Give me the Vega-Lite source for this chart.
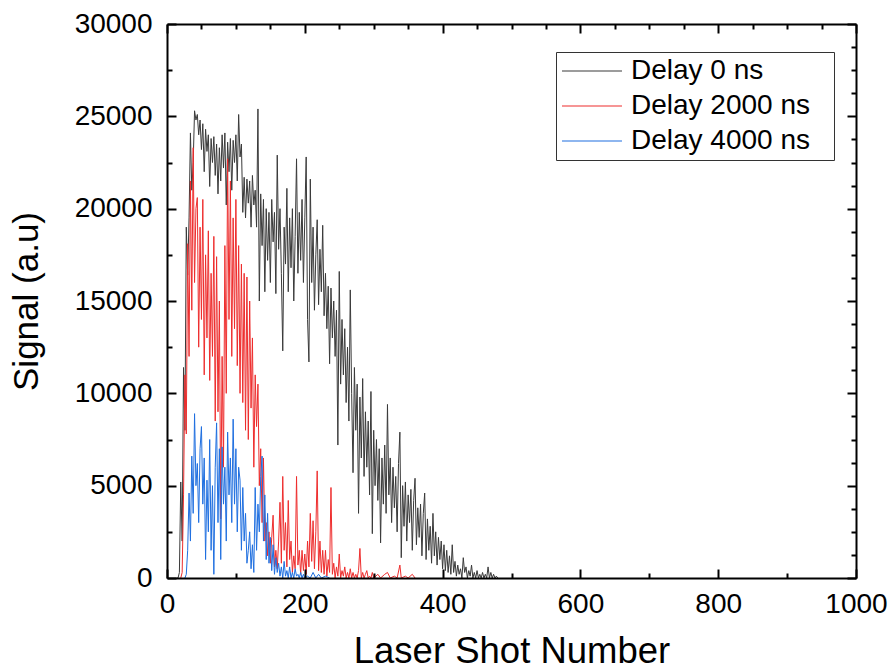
{
  "$schema": "https://vega.github.io/schema/vega-lite/v6.json",
  "width": 689,
  "height": 554,
  "autosize": "none",
  "padding": {"left": 167, "top": 24, "right": 36, "bottom": 93},
  "background": "white",
  "config": {
    "view": {"stroke": null},
    "font": "Liberation Sans",
    "legend": {"strokeWidth": 1}
  },
  "datasets": {
    "gray": [
      {"shot":14,"signal":0},{"shot":16,"signal":0},{"shot":18,"signal":300},{"shot":20,"signal":5200},{"shot":22,"signal":2000},{"shot":24,"signal":11400},{"shot":26,"signal":8000},{"shot":28,"signal":19000},{"shot":30,"signal":16400},{"shot":32,"signal":19500},{"shot":34,"signal":24100},{"shot":36,"signal":21000},{"shot":38,"signal":22500},{"shot":40,"signal":25300},{"shot":42,"signal":24800},{"shot":44,"signal":25100},{"shot":46,"signal":24000},{"shot":48,"signal":24800},{"shot":50,"signal":23200},{"shot":52,"signal":24600},{"shot":54,"signal":22000},{"shot":56,"signal":24300},{"shot":58,"signal":23100},{"shot":60,"signal":24000},{"shot":62,"signal":21200},{"shot":64,"signal":23800},{"shot":66,"signal":22500},{"shot":68,"signal":23900},{"shot":70,"signal":21800},{"shot":72,"signal":23500},{"shot":74,"signal":20800},{"shot":76,"signal":23300},{"shot":78,"signal":21500},{"shot":80,"signal":24000},{"shot":82,"signal":22200},{"shot":84,"signal":24100},{"shot":86,"signal":20200},{"shot":88,"signal":23600},{"shot":90,"signal":22000},{"shot":92,"signal":23800},{"shot":94,"signal":21000},{"shot":96,"signal":23700},{"shot":98,"signal":22500},{"shot":100,"signal":24000},{"shot":102,"signal":21500},{"shot":104,"signal":25100},{"shot":106,"signal":22800},{"shot":108,"signal":23500},{"shot":110,"signal":19800},{"shot":112,"signal":21700},{"shot":114,"signal":19500},{"shot":116,"signal":21600},{"shot":118,"signal":20300},{"shot":120,"signal":21500},{"shot":122,"signal":19000},{"shot":124,"signal":21800},{"shot":126,"signal":20200},{"shot":128,"signal":21000},{"shot":130,"signal":19000},{"shot":132,"signal":25400},{"shot":134,"signal":15000},{"shot":136,"signal":20800},{"shot":138,"signal":18000},{"shot":140,"signal":20500},{"shot":142,"signal":15500},{"shot":144,"signal":20000},{"shot":146,"signal":17200},{"shot":148,"signal":19800},{"shot":150,"signal":16000},{"shot":152,"signal":20500},{"shot":154,"signal":18200},{"shot":156,"signal":19800},{"shot":158,"signal":15400},{"shot":160,"signal":22900},{"shot":162,"signal":17800},{"shot":164,"signal":20000},{"shot":166,"signal":16500},{"shot":168,"signal":12300},{"shot":170,"signal":19000},{"shot":172,"signal":17000},{"shot":174,"signal":21100},{"shot":176,"signal":15500},{"shot":178,"signal":19500},{"shot":180,"signal":16800},{"shot":182,"signal":20000},{"shot":184,"signal":15000},{"shot":186,"signal":18500},{"shot":188,"signal":22700},{"shot":190,"signal":16500},{"shot":192,"signal":19800},{"shot":194,"signal":17200},{"shot":196,"signal":20500},{"shot":198,"signal":16000},{"shot":200,"signal":19500},{"shot":202,"signal":22800},{"shot":204,"signal":14000},{"shot":206,"signal":11700},{"shot":208,"signal":21600},{"shot":210,"signal":16000},{"shot":212,"signal":19000},{"shot":214,"signal":14500},{"shot":216,"signal":17500},{"shot":218,"signal":19400},{"shot":220,"signal":14800},{"shot":222,"signal":17800},{"shot":224,"signal":15500},{"shot":226,"signal":19100},{"shot":228,"signal":14200},{"shot":230,"signal":16500},{"shot":232,"signal":13500},{"shot":234,"signal":15800},{"shot":236,"signal":11600},{"shot":238,"signal":15700},{"shot":240,"signal":13000},{"shot":242,"signal":15000},{"shot":244,"signal":12000},{"shot":246,"signal":14500},{"shot":248,"signal":7200},{"shot":250,"signal":16600},{"shot":252,"signal":10500},{"shot":254,"signal":14000},{"shot":256,"signal":11000},{"shot":258,"signal":13500},{"shot":260,"signal":9500},{"shot":262,"signal":12500},{"shot":264,"signal":8500},{"shot":266,"signal":15600},{"shot":268,"signal":10000},{"shot":270,"signal":5700},{"shot":272,"signal":11400},{"shot":274,"signal":8000},{"shot":276,"signal":10500},{"shot":278,"signal":3500},{"shot":280,"signal":9800},{"shot":282,"signal":6500},{"shot":284,"signal":10800},{"shot":286,"signal":5500},{"shot":288,"signal":9000},{"shot":290,"signal":6000},{"shot":292,"signal":8500},{"shot":294,"signal":4500},{"shot":296,"signal":10100},{"shot":298,"signal":2400},{"shot":300,"signal":8000},{"shot":302,"signal":5000},{"shot":304,"signal":7500},{"shot":306,"signal":4200},{"shot":308,"signal":7000},{"shot":310,"signal":1900},{"shot":312,"signal":6500},{"shot":314,"signal":4000},{"shot":316,"signal":7200},{"shot":318,"signal":3500},{"shot":320,"signal":9400},{"shot":322,"signal":4500},{"shot":324,"signal":6500},{"shot":326,"signal":3000},{"shot":328,"signal":6000},{"shot":330,"signal":3800},{"shot":332,"signal":5500},{"shot":334,"signal":2500},{"shot":336,"signal":6200},{"shot":338,"signal":7900},{"shot":340,"signal":1100},{"shot":342,"signal":5000},{"shot":344,"signal":2800},{"shot":346,"signal":5200},{"shot":348,"signal":2000},{"shot":350,"signal":4500},{"shot":352,"signal":3000},{"shot":354,"signal":4800},{"shot":356,"signal":1500},{"shot":358,"signal":4200},{"shot":360,"signal":5400},{"shot":362,"signal":1800},{"shot":364,"signal":3800},{"shot":366,"signal":2200},{"shot":368,"signal":4000},{"shot":370,"signal":1200},{"shot":372,"signal":3500},{"shot":374,"signal":4600},{"shot":376,"signal":1000},{"shot":378,"signal":3200},{"shot":380,"signal":1500},{"shot":382,"signal":2800},{"shot":384,"signal":800},{"shot":386,"signal":3500},{"shot":388,"signal":1200},{"shot":390,"signal":2500},{"shot":392,"signal":700},{"shot":394,"signal":2200},{"shot":396,"signal":1000},{"shot":398,"signal":2000},{"shot":400,"signal":500},{"shot":402,"signal":1800},{"shot":404,"signal":400},{"shot":406,"signal":1500},{"shot":408,"signal":300},{"shot":410,"signal":1200},{"shot":412,"signal":200},{"shot":414,"signal":1800},{"shot":416,"signal":300},{"shot":418,"signal":900},{"shot":420,"signal":100},{"shot":422,"signal":700},{"shot":424,"signal":200},{"shot":426,"signal":500},{"shot":428,"signal":0},{"shot":430,"signal":1100},{"shot":432,"signal":300},{"shot":434,"signal":600},{"shot":436,"signal":0},{"shot":438,"signal":400},{"shot":440,"signal":100},{"shot":442,"signal":700},{"shot":444,"signal":0},{"shot":446,"signal":300},{"shot":448,"signal":0},{"shot":450,"signal":400},{"shot":452,"signal":0},{"shot":454,"signal":200},{"shot":456,"signal":0},{"shot":458,"signal":300},{"shot":460,"signal":0},{"shot":462,"signal":200},{"shot":464,"signal":0},{"shot":466,"signal":600},{"shot":468,"signal":0},{"shot":470,"signal":300},{"shot":472,"signal":0},{"shot":474,"signal":200},{"shot":476,"signal":0},{"shot":478,"signal":100},{"shot":480,"signal":0}
    ],
    "red": [
      {"shot":20,"signal":0},{"shot":22,"signal":300},{"shot":24,"signal":4500},{"shot":26,"signal":11000},{"shot":28,"signal":7800},{"shot":30,"signal":18100},{"shot":32,"signal":12000},{"shot":34,"signal":21500},{"shot":36,"signal":14500},{"shot":38,"signal":23300},{"shot":40,"signal":16000},{"shot":42,"signal":20000},{"shot":44,"signal":20600},{"shot":46,"signal":12500},{"shot":48,"signal":19000},{"shot":50,"signal":14000},{"shot":52,"signal":20500},{"shot":54,"signal":11000},{"shot":56,"signal":17500},{"shot":58,"signal":13000},{"shot":60,"signal":18800},{"shot":62,"signal":10700},{"shot":64,"signal":16500},{"shot":66,"signal":12000},{"shot":68,"signal":18500},{"shot":70,"signal":8500},{"shot":72,"signal":17400},{"shot":74,"signal":9000},{"shot":76,"signal":15000},{"shot":78,"signal":3200},{"shot":80,"signal":12000},{"shot":82,"signal":6000},{"shot":84,"signal":18000},{"shot":86,"signal":10000},{"shot":88,"signal":22700},{"shot":90,"signal":14000},{"shot":92,"signal":21500},{"shot":94,"signal":12000},{"shot":96,"signal":19500},{"shot":98,"signal":13500},{"shot":100,"signal":20500},{"shot":102,"signal":11500},{"shot":104,"signal":18000},{"shot":106,"signal":10000},{"shot":108,"signal":17000},{"shot":110,"signal":9500},{"shot":112,"signal":16500},{"shot":114,"signal":8000},{"shot":116,"signal":16300},{"shot":118,"signal":7500},{"shot":120,"signal":15000},{"shot":122,"signal":9200},{"shot":124,"signal":13000},{"shot":126,"signal":6000},{"shot":128,"signal":11000},{"shot":130,"signal":8200},{"shot":132,"signal":10500},{"shot":134,"signal":5000},{"shot":136,"signal":7000},{"shot":138,"signal":3000},{"shot":140,"signal":6500},{"shot":142,"signal":2000},{"shot":144,"signal":3000},{"shot":146,"signal":1200},{"shot":148,"signal":2500},{"shot":150,"signal":800},{"shot":152,"signal":2200},{"shot":154,"signal":3400},{"shot":156,"signal":600},{"shot":158,"signal":1500},{"shot":160,"signal":500},{"shot":162,"signal":2000},{"shot":164,"signal":4100},{"shot":166,"signal":800},{"shot":168,"signal":5500},{"shot":170,"signal":1500},{"shot":172,"signal":3000},{"shot":174,"signal":600},{"shot":176,"signal":4200},{"shot":178,"signal":1000},{"shot":180,"signal":2000},{"shot":182,"signal":300},{"shot":184,"signal":1200},{"shot":186,"signal":500},{"shot":188,"signal":5500},{"shot":190,"signal":700},{"shot":192,"signal":1500},{"shot":194,"signal":200},{"shot":196,"signal":1500},{"shot":198,"signal":400},{"shot":200,"signal":1300},{"shot":202,"signal":200},{"shot":204,"signal":2000},{"shot":206,"signal":600},{"shot":208,"signal":3500},{"shot":210,"signal":900},{"shot":212,"signal":3100},{"shot":214,"signal":500},{"shot":216,"signal":2500},{"shot":218,"signal":5800},{"shot":220,"signal":400},{"shot":222,"signal":2000},{"shot":224,"signal":300},{"shot":226,"signal":1500},{"shot":228,"signal":200},{"shot":230,"signal":1500},{"shot":232,"signal":100},{"shot":234,"signal":1000},{"shot":236,"signal":300},{"shot":238,"signal":4900},{"shot":240,"signal":200},{"shot":242,"signal":800},{"shot":244,"signal":0},{"shot":246,"signal":600},{"shot":248,"signal":100},{"shot":250,"signal":1300},{"shot":252,"signal":0},{"shot":254,"signal":400},{"shot":256,"signal":100},{"shot":258,"signal":600},{"shot":260,"signal":0},{"shot":262,"signal":300},{"shot":264,"signal":0},{"shot":266,"signal":500},{"shot":268,"signal":0},{"shot":270,"signal":300},{"shot":272,"signal":0},{"shot":274,"signal":200},{"shot":276,"signal":0},{"shot":278,"signal":400},{"shot":280,"signal":1600},{"shot":282,"signal":0},{"shot":284,"signal":300},{"shot":286,"signal":0},{"shot":288,"signal":200},{"shot":290,"signal":400},{"shot":292,"signal":0},{"shot":294,"signal":100},{"shot":296,"signal":0},{"shot":298,"signal":300},{"shot":300,"signal":0},{"shot":306,"signal":200},{"shot":310,"signal":0},{"shot":316,"signal":200},{"shot":320,"signal":300},{"shot":324,"signal":0},{"shot":330,"signal":100},{"shot":334,"signal":0},{"shot":338,"signal":700},{"shot":340,"signal":0},{"shot":346,"signal":100},{"shot":350,"signal":0},{"shot":356,"signal":200},{"shot":360,"signal":0}
    ],
    "blue": [
      {"shot":26,"signal":0},{"shot":28,"signal":200},{"shot":30,"signal":1500},{"shot":32,"signal":4600},{"shot":34,"signal":2000},{"shot":36,"signal":6600},{"shot":38,"signal":3500},{"shot":40,"signal":8900},{"shot":42,"signal":5000},{"shot":44,"signal":6200},{"shot":46,"signal":3000},{"shot":48,"signal":7000},{"shot":50,"signal":8200},{"shot":52,"signal":4000},{"shot":54,"signal":6500},{"shot":56,"signal":1000},{"shot":58,"signal":5300},{"shot":60,"signal":2500},{"shot":62,"signal":7500},{"shot":64,"signal":1500},{"shot":66,"signal":5000},{"shot":68,"signal":200},{"shot":70,"signal":6000},{"shot":72,"signal":8400},{"shot":74,"signal":3000},{"shot":76,"signal":7000},{"shot":78,"signal":1000},{"shot":80,"signal":7100},{"shot":82,"signal":4000},{"shot":84,"signal":6000},{"shot":86,"signal":2000},{"shot":88,"signal":7900},{"shot":90,"signal":4500},{"shot":92,"signal":6500},{"shot":94,"signal":3000},{"shot":96,"signal":8600},{"shot":98,"signal":4000},{"shot":100,"signal":7000},{"shot":102,"signal":2500},{"shot":104,"signal":6000},{"shot":106,"signal":5300},{"shot":108,"signal":1500},{"shot":110,"signal":4900},{"shot":112,"signal":2000},{"shot":114,"signal":3500},{"shot":116,"signal":800},{"shot":118,"signal":1500},{"shot":120,"signal":2500},{"shot":122,"signal":500},{"shot":124,"signal":1800},{"shot":126,"signal":300},{"shot":128,"signal":4900},{"shot":130,"signal":1500},{"shot":132,"signal":4000},{"shot":134,"signal":2500},{"shot":136,"signal":5500},{"shot":138,"signal":6600},{"shot":140,"signal":2000},{"shot":142,"signal":4500},{"shot":144,"signal":1000},{"shot":146,"signal":3500},{"shot":148,"signal":800},{"shot":150,"signal":2200},{"shot":152,"signal":400},{"shot":154,"signal":1800},{"shot":156,"signal":200},{"shot":158,"signal":1100},{"shot":160,"signal":300},{"shot":162,"signal":800},{"shot":164,"signal":100},{"shot":166,"signal":600},{"shot":168,"signal":0},{"shot":170,"signal":900},{"shot":172,"signal":100},{"shot":174,"signal":400},{"shot":176,"signal":0},{"shot":178,"signal":600},{"shot":180,"signal":0},{"shot":182,"signal":300},{"shot":184,"signal":0},{"shot":186,"signal":500},{"shot":188,"signal":100},{"shot":190,"signal":200},{"shot":192,"signal":0},{"shot":194,"signal":300},{"shot":196,"signal":0},{"shot":198,"signal":200},{"shot":200,"signal":0},{"shot":204,"signal":100},{"shot":208,"signal":0},{"shot":212,"signal":300},{"shot":216,"signal":0},{"shot":220,"signal":200},{"shot":224,"signal":0},{"shot":230,"signal":100},{"shot":236,"signal":0}
    ]
  },
  "layer": [
    {
      "layer": [
        {
          "data": {"name": "gray"},
          "mark": {"type": "line", "strokeWidth": 1, "clip": true},
          "encoding": {
            "x": {"field": "shot", "type": "quantitative", "scale": {"domain": [0, 1000], "nice": false, "zero": false},
              "axis": {"title": "Laser Shot Number", "values": [0,50,100,150,200,250,300,350,400,450,500,550,600,650,700,750,800,850,900,950,1000],
                "format": "d", "labelExpr": "datum.value % 200 === 0 ? datum.label : ''", "labelFlush": false, "labelOverlap": false,
                "tickSize": {"expr": "datum.value % 200 === 0 ? -9 : -5"}, "tickWidth": 2, "tickColor": "black",
                "domainColor": "black", "domainWidth": 2, "labelPadding": 21, "labelFontSize": 28, "labelColor": "black", "labelFont": "Liberation Sans",
                "titleFontSize": 36.5, "titleFontWeight": "normal", "titleColor": "black", "titleFont": "Liberation Sans", "titlePadding": 11, "grid": false, "zindex": 1}},
            "y": {"field": "signal", "type": "quantitative", "scale": {"domain": [0, 30000], "nice": false},
              "axis": {"title": "Signal (a.u)", "values": [0,1250,2500,3750,5000,6250,7500,8750,10000,11250,12500,13750,15000,16250,17500,18750,20000,21250,22500,23750,25000,26250,27500,28750,30000],
                "labelExpr": "datum.value % 5000 === 0 ? datum.label : ''", "format": "d", "labelFlush": false, "labelOverlap": false,
                "tickSize": {"expr": "datum.value % 5000 === 0 ? -9 : -5"}, "tickWidth": 2, "tickColor": "black",
                "domainColor": "black", "domainWidth": 2, "labelPadding": 24, "labelFontSize": 28, "labelColor": "black", "labelFont": "Liberation Sans",
                "titleFontSize": 35, "titleFontWeight": "normal", "titleColor": "black", "titleFont": "Liberation Sans", "titlePadding": 30, "grid": false, "zindex": 1}},
            "color": {"datum": "Delay 0 ns", "type": "nominal",
              "scale": {"domain": ["Delay 0 ns", "Delay 2000 ns", "Delay 4000 ns"], "range": ["#3a3a3a", "#ee2d2d", "#1f6fe0"]},
              "legend": {"title": null, "orient": "none", "legendX": 389, "legendY": 28, "symbolType": "M-1,0H3.615M19.3,0", "symbolSize": 676, "symbolStrokeWidth": 1.2,
                "labelFont": "Liberation Sans", "labelFontSize": 28, "labelColor": "black", "labelOffset": 42, "labelLimit": 400, "rowPadding": 7, "padding": 5,
                "strokeColor": "#333333", "fillColor": "white"}}
          }
        },
        {
          "data": {"name": "red"},
          "mark": {"type": "line", "strokeWidth": 1, "clip": true},
          "encoding": {
            "x": {"field": "shot", "type": "quantitative"},
            "y": {"field": "signal", "type": "quantitative"},
            "color": {"datum": "Delay 2000 ns", "type": "nominal"}
          }
        },
        {
          "data": {"name": "blue"},
          "mark": {"type": "line", "strokeWidth": 1, "clip": true},
          "encoding": {
            "x": {"field": "shot", "type": "quantitative"},
            "y": {"field": "signal", "type": "quantitative"},
            "color": {"datum": "Delay 4000 ns", "type": "nominal"}
          }
        }
      ]
    },
    {
      "data": {"name": "gray"},
      "mark": {"type": "point", "opacity": 0},
      "encoding": {
        "x": {"field": "shot", "type": "quantitative",
          "axis": {"orient": "top", "title": null, "labels": false, "values": [0,50,100,150,200,250,300,350,400,450,500,550,600,650,700,750,800,850,900,950,1000],
            "tickSize": {"expr": "datum.value % 200 === 0 ? -9 : -5"}, "tickWidth": 2, "tickColor": "black", "domainColor": "black", "domainWidth": 2, "grid": false, "zindex": 1}},
        "y": {"field": "signal", "type": "quantitative",
          "axis": {"orient": "right", "title": null, "labels": false, "values": [0,1250,2500,3750,5000,6250,7500,8750,10000,11250,12500,13750,15000,16250,17500,18750,20000,21250,22500,23750,25000,26250,27500,28750,30000],
            "tickSize": {"expr": "datum.value % 5000 === 0 ? -9 : -5"}, "tickWidth": 2, "tickColor": "black", "domainColor": "black", "domainWidth": 2, "grid": false, "zindex": 1}}
      }
    }
  ],
  "resolve": {"axis": {"x": "independent", "y": "independent"}}
}
